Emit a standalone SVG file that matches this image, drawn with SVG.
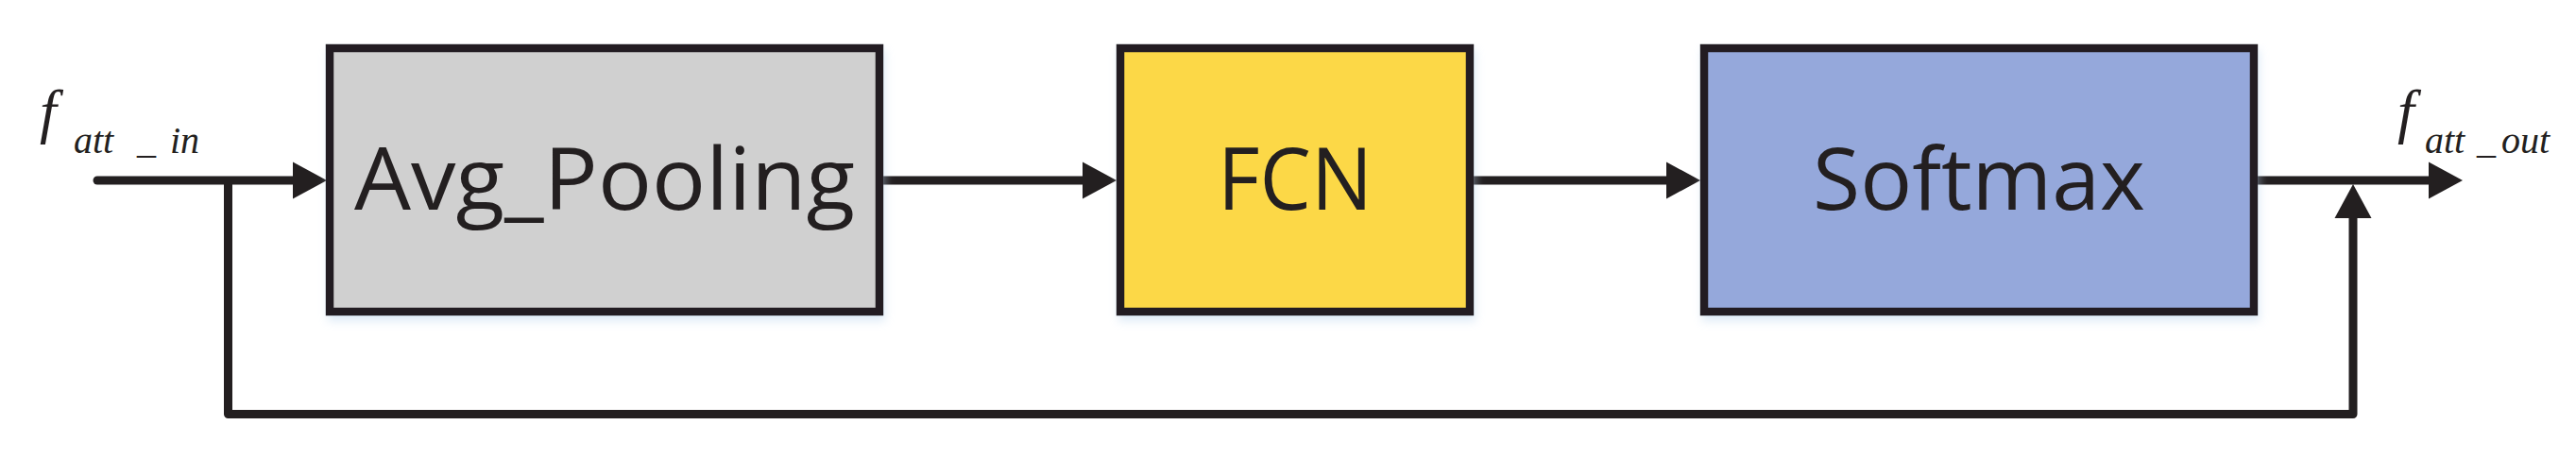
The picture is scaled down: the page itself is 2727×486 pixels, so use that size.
<svg xmlns="http://www.w3.org/2000/svg" width="2727" height="486" viewBox="0 0 2727 486">
<style>
.box{stroke:#231f20;stroke-width:8.5;filter:url(#sh)}
.lbl{font-family:"Open Sans","Noto Sans",sans-serif;font-size:92px;fill:#231f20;text-anchor:middle}
.wire{fill:none;stroke:#231f20;stroke-width:9;stroke-linejoin:round}
.math{font-family:"Liberation Serif","Times New Roman",serif;font-style:italic;fill:#231f20}
.big{font-size:64px}
.sub{font-size:40px}
</style>
<defs>
<filter id="sh" x="-5%" y="-5%" width="115%" height="125%">
<feDropShadow dx="2" dy="6" stdDeviation="5" flood-color="#b9d3ee" flood-opacity="0.45"/>
</filter>
<marker id="ah" markerUnits="userSpaceOnUse" markerWidth="40" markerHeight="42" refX="2" refY="20" orient="auto" viewBox="0 0 40 42">
<path d="M0,0.5 L36,20 L0,39.5 Z" fill="#231f20"/>
</marker>
</defs>

<g id="connectors">
<line class="wire" x1="103" y1="191" x2="312" y2="191" marker-end="url(#ah)" style="stroke-linecap:round"/>
<line class="wire" x1="935" y1="191" x2="1148" y2="191" marker-end="url(#ah)"/>
<line class="wire" x1="1560" y1="191" x2="1766" y2="191" marker-end="url(#ah)"/>
<line class="wire" x1="2390" y1="191" x2="2573" y2="191" marker-end="url(#ah)"/>
<polyline class="wire" points="241.5,191 241.5,438.5 2491,438.5 2491,229" marker-end="url(#ah)"/>
</g>

<g id="node-avg">
<rect class="box" x="349" y="51" width="582" height="279" fill="#d0d0d0"/>
<text class="lbl" x="640" y="222" textLength="530" lengthAdjust="spacingAndGlyphs">Avg_Pooling</text>
</g>

<g id="node-fcn">
<rect class="box" x="1186" y="51" width="370" height="279" fill="#fcd846"/>
<text class="lbl" x="1371" y="222" textLength="164" lengthAdjust="spacingAndGlyphs">FCN</text>
</g>

<g id="node-softmax">
<rect class="box" x="1804" y="51" width="582" height="279" fill="#95a8db"/>
<text class="lbl" x="2095" y="222" textLength="352" lengthAdjust="spacingAndGlyphs">Softmax</text>
</g>

<g id="label-in">
<text class="math big" x="42" y="139">f</text>
<text class="math sub" x="78" y="162">att</text>
<text class="math sub" x="145" y="162">_</text>
<text class="math sub" x="180" y="162">in</text>
</g>

<g id="label-out">
<text class="math big" x="2538" y="139">f</text>
<text class="math sub" x="2567" y="162">att</text>
<text class="math sub" x="2622" y="162">_</text>
<text class="math sub" x="2648" y="162">out</text>
</g>
</svg>
